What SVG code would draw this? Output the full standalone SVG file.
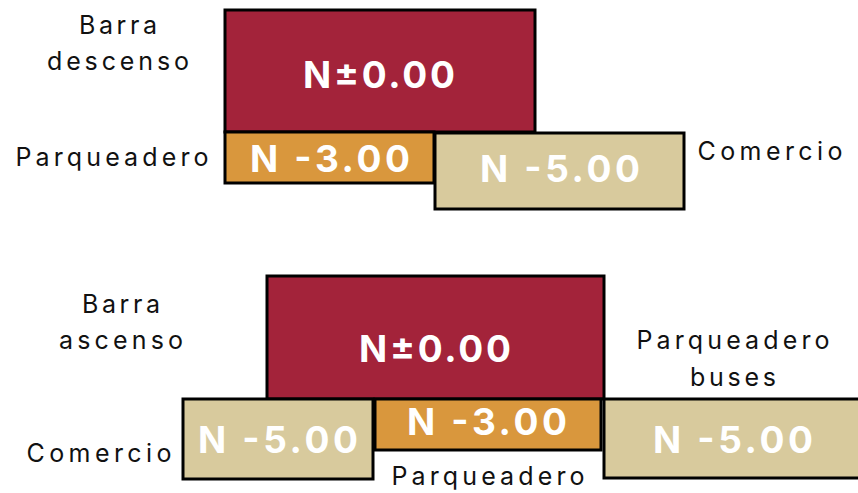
<svg xmlns="http://www.w3.org/2000/svg" width="858" height="493" viewBox="0 0 858 493">
<style>
.box{stroke:#000;stroke-width:3}
.red{fill:#A3233A}
.org{fill:#D9973D}
.bei{fill:#D8CA9D}
.lv{font-family:Inter,"Open Sans",sans-serif;font-weight:700;font-size:37px;fill:#fff;text-anchor:middle}
.lb{font-family:Inter,"Open Sans",sans-serif;font-size:25px;fill:#111;text-anchor:middle}
</style>
<rect width="858" height="493" fill="#fff"/>
<g id="top-n000"><rect class="box red" x="225" y="10" width="310" height="122"/><text class="lv" x="379" y="88" textLength="152" lengthAdjust="spacing">N±0.00</text></g>
<g id="top-n300"><rect class="box org" x="225" y="132" width="209" height="51"/><text class="lv" x="330" y="172" textLength="160" lengthAdjust="spacing">N -3.00</text></g>
<g id="top-n500"><rect class="box bei" x="435" y="133" width="249" height="76"/><text class="lv" x="560" y="182" textLength="160" lengthAdjust="spacing">N -5.00</text></g>
<g id="bot-n000"><rect class="box red" x="267" y="276" width="337" height="123"/><text class="lv" x="435" y="362" textLength="152" lengthAdjust="spacing">N±0.00</text></g>
<g id="bot-n500l"><rect class="box bei" x="183" y="399" width="190" height="80"/><text class="lv" x="278" y="453" textLength="160" lengthAdjust="spacing">N -5.00</text></g>
<g id="bot-n300"><rect class="box org" x="375" y="399" width="226" height="51"/><text class="lv" x="487" y="435" textLength="160" lengthAdjust="spacing">N -3.00</text></g>
<g id="bot-n500r"><rect class="box bei" x="604" y="399" width="260" height="79"/><text class="lv" x="733" y="453" textLength="160" lengthAdjust="spacing">N -5.00</text></g>
<g id="labels">
<text class="lb" x="118" y="34" textLength="78" lengthAdjust="spacing">Barra</text>
<text class="lb" x="118" y="70" textLength="142" lengthAdjust="spacing">descenso</text>
<text class="lb" x="112" y="166" textLength="193" lengthAdjust="spacing">Parqueadero</text>
<text class="lb" x="770" y="160" textLength="145" lengthAdjust="spacing">Comercio</text>
<text class="lb" x="121" y="313" textLength="78" lengthAdjust="spacing">Barra</text>
<text class="lb" x="121" y="349" textLength="124" lengthAdjust="spacing">ascenso</text>
<text class="lb" x="733" y="349" textLength="193" lengthAdjust="spacing">Parqueadero</text>
<text class="lb" x="733" y="386" textLength="86" lengthAdjust="spacing">buses</text>
<text class="lb" x="99" y="462" textLength="145" lengthAdjust="spacing">Comercio</text>
<text class="lb" x="488" y="485" textLength="193" lengthAdjust="spacing">Parqueadero</text>
</g>
</svg>
